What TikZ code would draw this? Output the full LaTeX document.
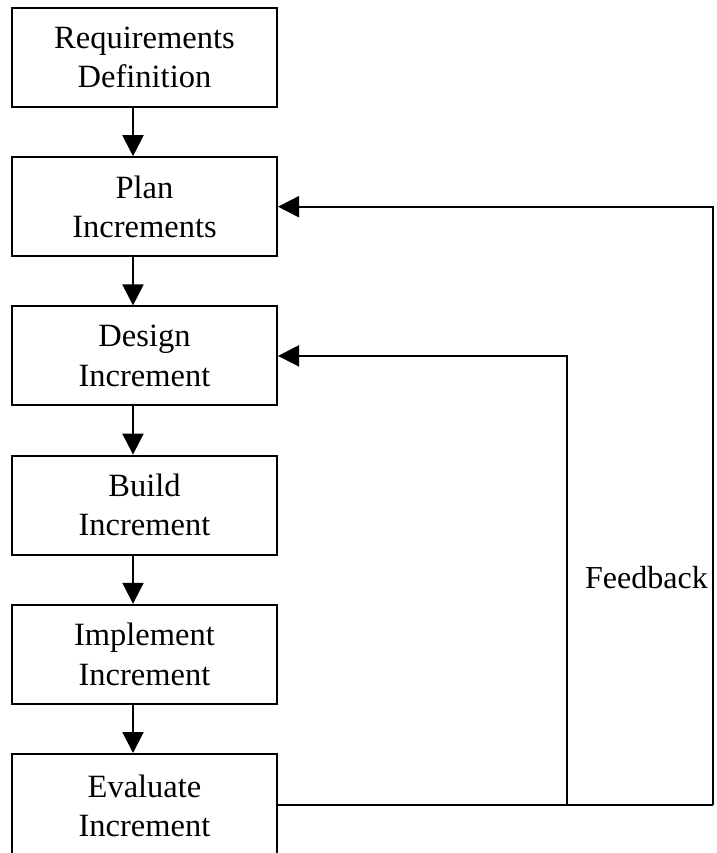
\documentclass[tikz,border=0pt]{standalone}
\usepackage{fontspec}
\setmainfont{Liberation Serif}
\usetikzlibrary{arrows.meta,positioning}

\begin{document}
\begin{tikzpicture}[x=1pt, y=1pt,
    stage/.style={draw,line width=2pt,minimum width=265pt,minimum height=99pt,inner sep=0,align=center,font=\fontsize{32.5}{39.5}\selectfont},
    flow/.style={line width=2pt,-{Triangle[length=21pt,width=21pt]}}]
        \useasboundingbox (0,0) rectangle (716,-853);
        \node at (144.5,-57.5) [stage] (req) {Requirements\\Definition};
        \node at (req.south) [stage,anchor=north,yshift=-48.2] (plan) {Plan\\Increments};
        \node at (plan.south) [stage,anchor=north,yshift=-48.2] (design) {Design\\Increment};
        \node at (design.south) [stage,anchor=north,yshift=-48.2] (build) {Build\\Increment};
        \node at (build.south) [stage,anchor=north,yshift=-48.2] (implement) {Implement\\Increment};
        \node at (implement.south) [stage,anchor=north,yshift=-48.2,minimum height=104] (evaluate) {Evaluate\\Increment};
        \draw[flow] ([xshift=-11.5]req.south) -- ([xshift=-11.5]plan.north);
        \draw[flow] ([xshift=-11.5]plan.south) -- ([xshift=-11.5]design.north);
        \draw[flow] ([xshift=-11.5]design.south) -- ([xshift=-11.5]build.north);
        \draw[flow] ([xshift=-11.5]build.south) -- ([xshift=-11.5]implement.north);
        \draw[flow] ([xshift=-11.5]implement.south) -- ([xshift=-11.5]evaluate.north);
        \coordinate (inner) at (567,-805);
        \coordinate (outer) at (713,-805);
        \draw[line width=2pt] (evaluate.east |- outer) -- (outer);
        \draw[flow] (outer) |- (plan.east);
        \draw[flow] (inner) |- (design.east);
        \node at (708,-588) [anchor=base east,inner sep=0,font=\fontsize{32}{39}\selectfont] (feedback) {Feedback};
    \end{tikzpicture}
\end{document}
